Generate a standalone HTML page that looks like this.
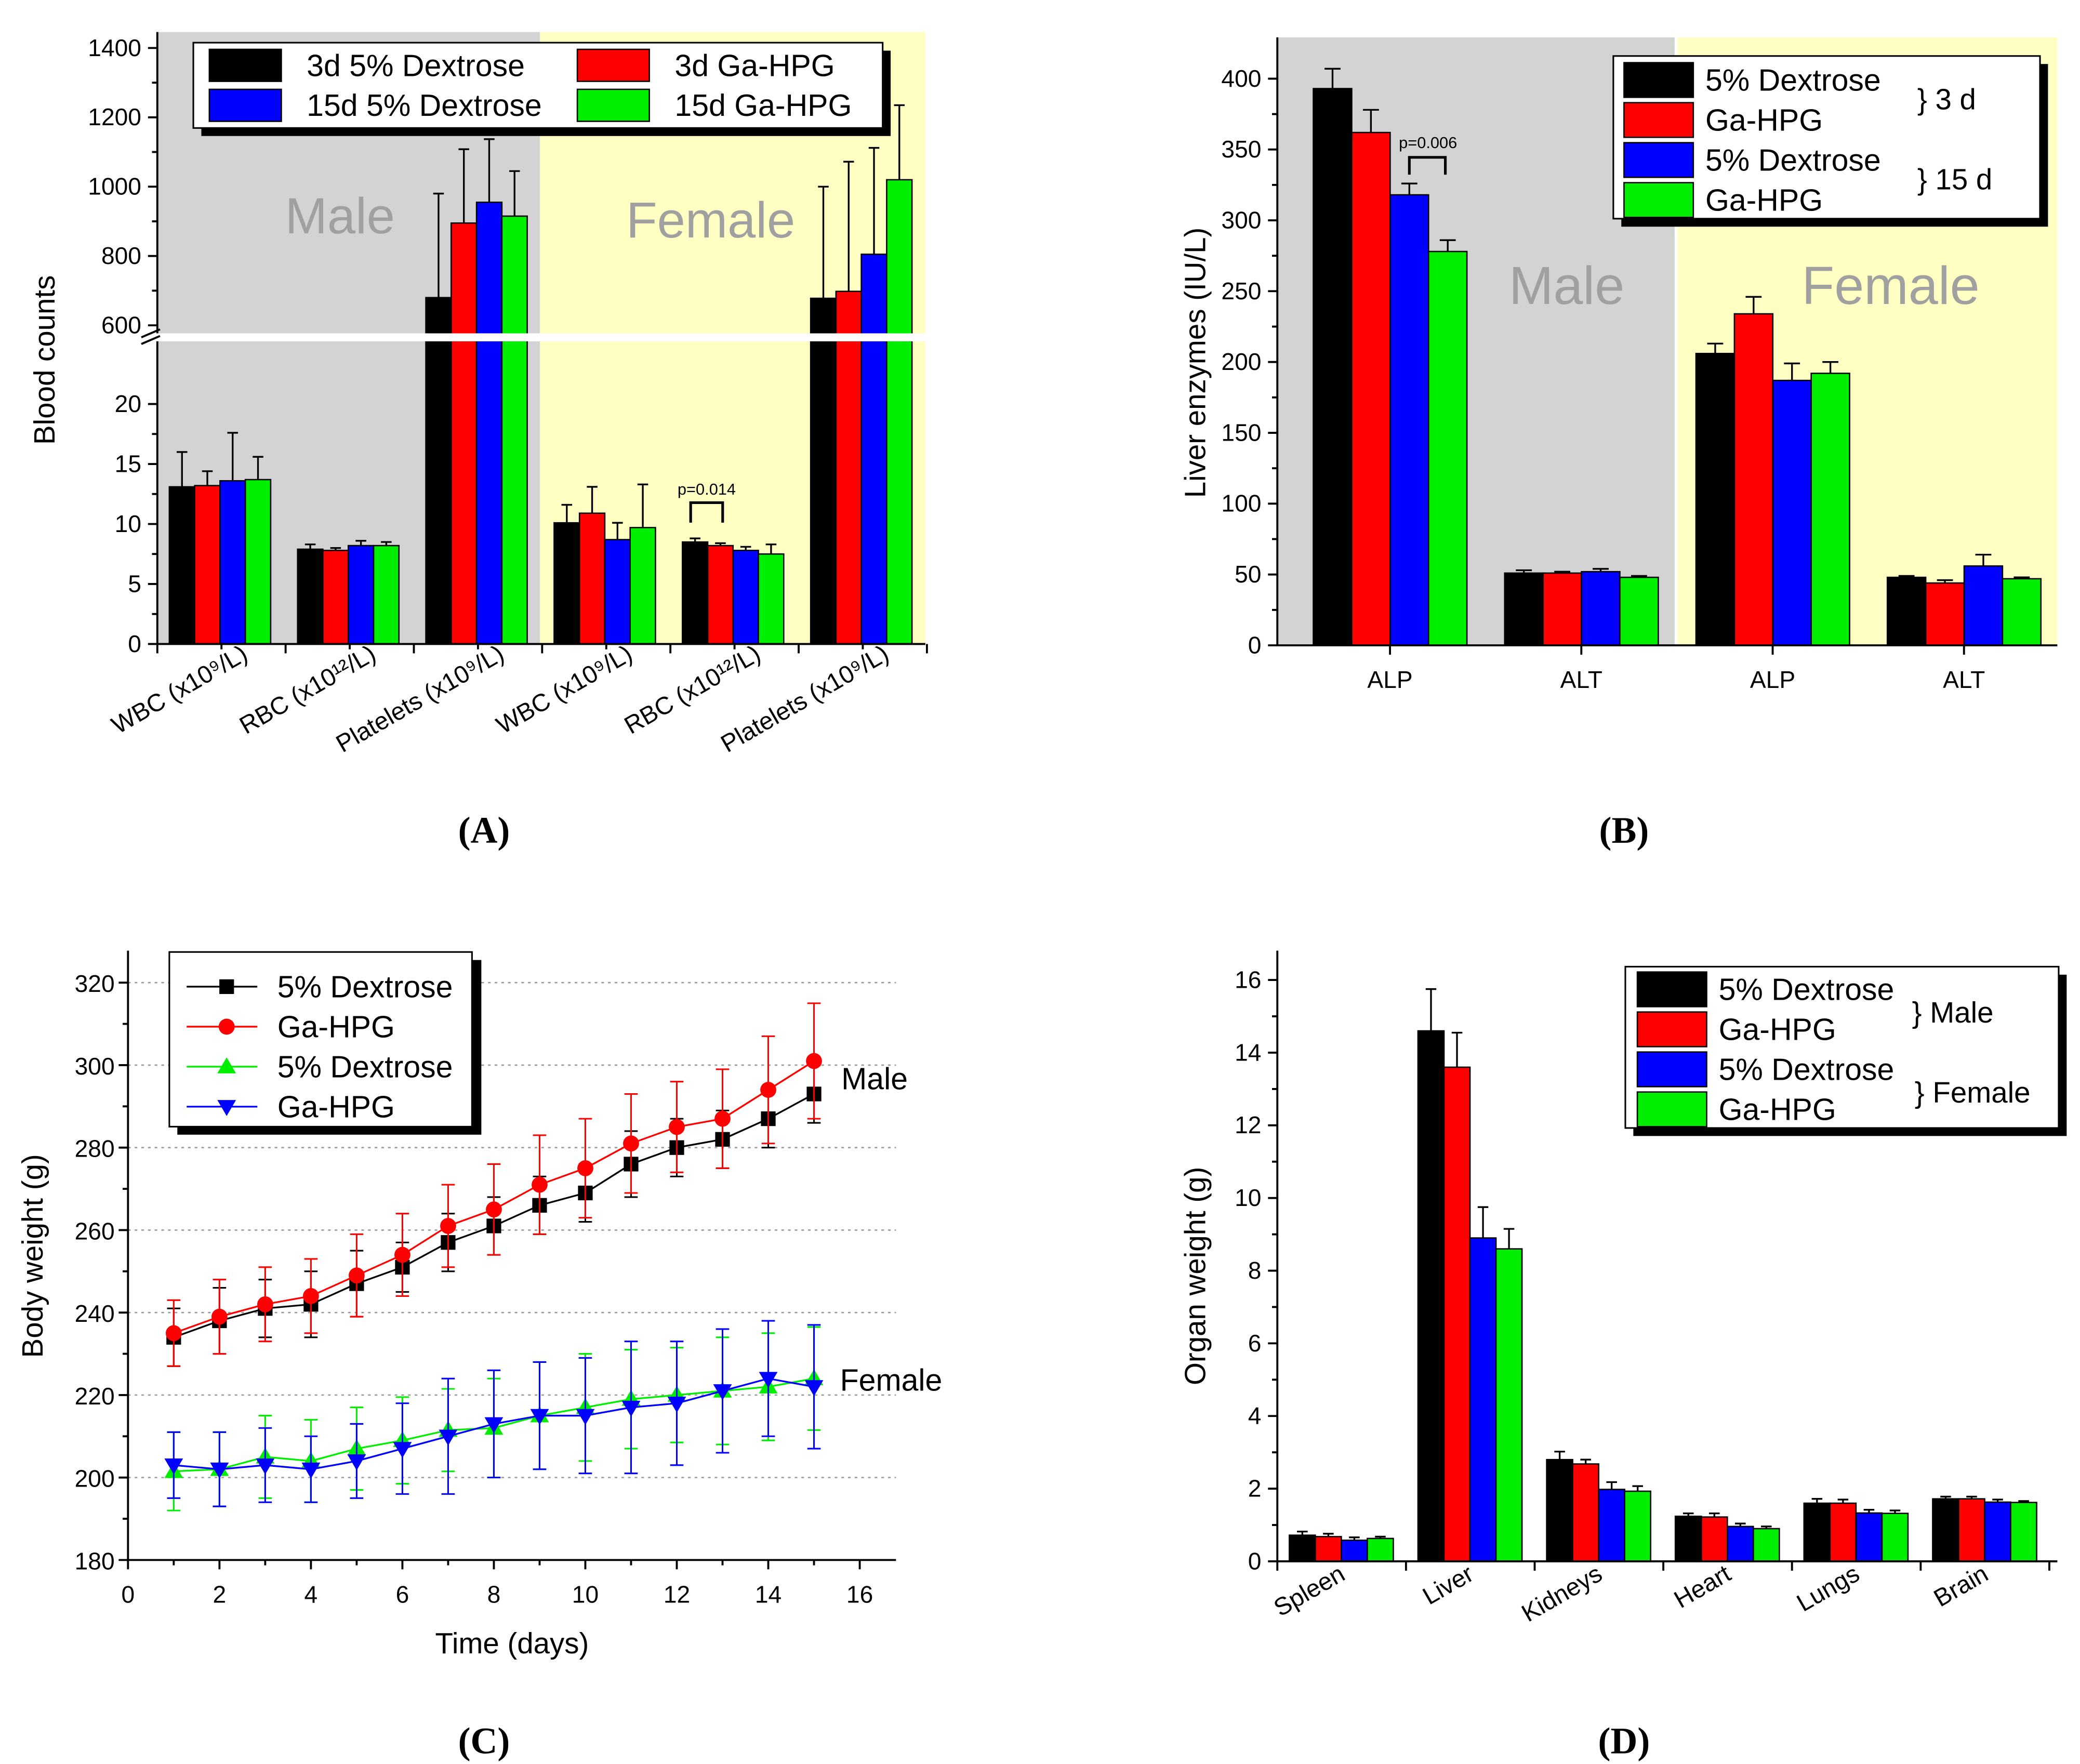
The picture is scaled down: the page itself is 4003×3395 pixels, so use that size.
<!DOCTYPE html>
<html><head><meta charset="utf-8"><style>
html,body{margin:0;padding:0;background:#fff;}
svg{display:block;font-family:"Liberation Sans",sans-serif;}
.n{font-family:"Liberation Sans Narrow","Liberation Sans",sans-serif;}
</style></head><body>
<svg id="s" width="4003" height="3395" viewBox="0 0 1560 1323" preserveAspectRatio="none" xmlns="http://www.w3.org/2000/svg">
<rect x="0" y="0" width="1560" height="1323" fill="#fff"/>
</svg>
<script>
// ---------- DATA ----------
const colors4 = ['#000000','#ff0000','#0000ff','#00ee00'];
// Panel A
const aCats = ['WBC (x10⁹/L)','RBC (x10¹²/L)','Platelets (x10⁹/L)','WBC (x10⁹/L)','RBC (x10¹²/L)','Platelets (x10⁹/L)'];
const aSeries = ['3d 5% Dextrose','3d Ga-HPG','15d 5% Dextrose','15d Ga-HPG'];
const aVals = [[13.1,13.2,13.6,13.7],[7.9,7.8,8.2,8.2],[680,895,955,915],[10.1,10.9,8.7,9.7],[8.5,8.2,7.8,7.5],[678,698,805,1020]];
const aErrTop = [[16,14.4,17.6,15.6],[8.3,8.0,8.6,8.5],[980,1108,1137,1045],[11.6,13.1,10.1,13.3],[8.8,8.4,8.1,8.3],[1000,1072,1112,1235]];
const aLowTicks = [0,5,10,15,20];
const aHighTicks = [600,800,1000,1200,1400];
// Panel B
const bCats = ['ALP','ALT','ALP','ALT'];
const bVals = [[393,362,318,278],[51,51,52,48],[206,234,187,192],[48,44,56,47]];
const bErrTop = [[407,378,326,286],[53,52,54,49],[213,246,199,200],[49,46,64,48]];
const bTicks = [0,50,100,150,200,250,300,350,400];
// Panel C
const cDays = [1,2,3,4,5,6,7,8,9,10,11,12,13,14,15];
const cMaleDex = [234,238,241,242,247,251,257,261,266,269,276,280,282,287,293];
const cMaleDexErr = [7,8,7,8,8,6,7,7,7,7,8,7,7,7,7];
const cMaleGa = [235,239,242,244,249,254,261,265,271,275,281,285,287,294,301];
const cMaleGaErr = [8,9,9,9,10,10,10,11,12,12,12,11,12,13,14];
const cFemDex = [201.5,202,205,204,207,209,211.5,212,215,217,219,220,221,222,224];
const cFemDexErr = [9.5,9,10,10,10,10.5,10,12,13,13,12,11.5,13,13,12.5];
const cFemGa = [203,202,203,202,204,207,210,213,215,215,217,218,221,224,222];
const cFemGaErr = [8,9,9,8,9,11,14,13,13,14,16,15,15,14,15];
const cXTicks = [0,2,4,6,8,10,12,14,16];
const cYTicks = [180,200,220,240,260,280,300,320];
// Panel D
const dCats = ['Spleen','Liver','Kidneys','Heart','Lungs','Brain'];
const dVals = [[0.72,0.68,0.58,0.63],[14.6,13.6,8.9,8.6],[2.8,2.68,1.98,1.93],[1.24,1.22,0.96,0.9],[1.6,1.6,1.33,1.32],[1.72,1.72,1.63,1.62]];
const dErrTop = [[0.82,0.76,0.66,0.68],[15.75,14.55,9.75,9.15],[3.02,2.8,2.18,2.07],[1.32,1.32,1.04,0.96],[1.72,1.7,1.42,1.4],[1.78,1.78,1.7,1.66]];
const dTicks = [0,2,4,6,8,10,12,14,16];

// ---------- HELPERS ----------
const S = document.getElementById('s');
const NS = 'http://www.w3.org/2000/svg';
function el(tag, attrs, parent, text){
  const e = document.createElementNS(NS, tag);
  for (const k in attrs) e.setAttribute(k, attrs[k]);
  if (text !== undefined) e.textContent = text;
  (parent||S).appendChild(e); return e;
}
function grp(name){ const g = el('g',{});   return g; }
function line(g,x1,y1,x2,y2,c,w){ return el('line',{x1,y1,x2,y2,stroke:c||'#000','stroke-width':w||1.5},g); }
function txt(g,x,y,s,size,opts){ opts=opts||{}; const t = el('text',{x,y,'font-size':size,fill:opts.fill||'#000','text-anchor':opts.anchor||'start',class:opts.cls||'',transform:opts.tr||''},g,s); if(opts.weight) t.setAttribute('font-weight',opts.weight); if(opts.family) t.setAttribute('font-family',opts.family); return t; }
function errbar(g,x,y1,y2,c,hw){ line(g,x,y1,x,y2,c,1.3); line(g,x-hw,y2,x+hw,y2,c,1.3); }

// ---------- PANEL A ----------
(function(){
  const g = grp('panel-a');
  const X0=118, X1=694, Y0=483, YT=24;
  const yLow = v => 483 - v*9.0;
  const yHigh = v => 244 - (v-600)*0.26;
  const yv = v => v<=25 ? yLow(v) : yHigh(v);
  const bg1 = el('rect',{x:X0,y:YT,width:287,height:Y0-YT,fill:'#d3d3d3'},g);
   
  const bg2 = el('rect',{x:405,y:YT,width:X1-405,height:Y0-YT,fill:'#ffffc4'},g);
   
  txt(g,255,175,'Male',38,{anchor:'middle',fill:'#a0a0a0'});
  txt(g,533,178,'Female',38,{anchor:'middle',fill:'#a0a0a0'});
  const gw=96.2, bw=19;
  aCats.forEach((c,i)=>{
    const cx = 165 + i*gw;
    aVals[i].forEach((v,j)=>{
      const x = cx-38+j*bw;
      const r = el('rect',{x,y:yv(v),width:bw,height:Y0-yv(v),fill:colors4[j],stroke:'#000','stroke-width':1},g);
      
      
      errbar(g,x+bw/2,yv(v),yv(aErrTop[i][j]),'#000',4);
    });
    const t = txt(g,cx+22,494,c,18.5,{anchor:'end',tr:`rotate(-30 ${cx+22} 494)`});
     
  });
  el('rect',{x:X0-14,y:250,width:X1-X0+14,height:6,fill:'#fff'},g);
  line(g,X0-12,258,X0+2,252,'#000',1.5); line(g,X0-12,253,X0+2,247,'#000',1.5);
  line(g,X0,YT,X0,250); line(g,X0,256,X0,Y0); line(g,X0,Y0,X1,Y0);
  aLowTicks.forEach(v=>{ line(g,X0-7,yLow(v),X0,yLow(v)); txt(g,X0-12,yLow(v)+6,String(v),18,{anchor:'end'}); });
  for(let v=2.5;v<22;v+=5) line(g,X0-4,yLow(v),X0,yLow(v));
  aHighTicks.forEach(v=>{ line(g,X0-7,yHigh(v),X0,yHigh(v)); txt(g,X0-12,yHigh(v)+6,String(v),18,{anchor:'end'}); });
  for(let v=700;v<1400;v+=200) line(g,X0-4,yHigh(v),X0,yHigh(v));
  for(let i=0;i<=6;i++){ const x=X0+i*gw; line(g,x,Y0,x,Y0+7); }
  for(let i=0;i<6;i++){ const x=X0+gw/2+i*gw; line(g,x,Y0,x,Y0+4); }
  const yt = txt(g,41,270,'Blood counts',22,{anchor:'middle',tr:'rotate(-90 41 270)'});
   
  txt(g,530,371,'p=0.014',12,{anchor:'middle'});
  el('path',{d:'M518 392 V377 H542 V392',fill:'none',stroke:'#000','stroke-width':2},g);
  const lg = el('g',{},g);  
  el('rect',{x:151,y:38,width:517,height:64,fill:'#000'},lg);
  el('rect',{x:145,y:32,width:517,height:64,fill:'#fff',stroke:'#000','stroke-width':1.2},lg);
  const pos=[[157,37],[433,37],[157,67],[433,67]];
  aSeries.forEach((s,j)=>{
    el('rect',{x:pos[j][0],y:pos[j][1],width:54,height:24,fill:colors4[j],stroke:'#000'},lg);
    const t = txt(lg,pos[j][0]+73,pos[j][1]+20,s,23);
     
  });
  txt(g,363,632,'(A)',28,{anchor:'middle',family:'"Liberation Serif",serif',weight:'bold'});
})();

// ---------- PANEL B ----------
(function(){
  const g = grp('panel-b');
  const X0=958, X1=1543, Y0=484, YT=28;
  const y = v => 484 - v*1.0625;
  el('rect',{x:X0,y:YT,width:298,height:Y0-YT,fill:'#d3d3d3'},g);
  el('rect',{x:1258,y:YT,width:X1-1258,height:Y0-YT,fill:'#ffffc4'},g);
  txt(g,1175,228,'Male',40,{anchor:'middle',fill:'#a0a0a0'});
  txt(g,1418,228,'Female',40,{anchor:'middle',fill:'#a0a0a0'});
  const bw=28.8;
  bCats.forEach((c,i)=>{
    const cx = 1042.5 + i*143.5;
    bVals[i].forEach((v,j)=>{
      const x = cx-57.5+j*bw;
      const r = el('rect',{x,y:y(v),width:bw,height:Y0-y(v),fill:colors4[j],stroke:'#000','stroke-width':1},g);
      
      
      errbar(g,x+bw/2,y(v),y(bErrTop[i][j]),'#000',6);
    });
    line(g,cx,Y0,cx,Y0+7);
    const t=txt(g,cx,516,c,18,{anchor:'middle'});
     
  });
  line(g,X0,YT,X0,Y0); line(g,X0,Y0,X1,Y0);
  bTicks.forEach(v=>{ line(g,X0-7,y(v),X0,y(v)); txt(g,X0-12,y(v)+6,String(v),18,{anchor:'end'}); });
  for(let v=25;v<400;v+=50) line(g,X0-4,y(v),X0,y(v));
  const yt = txt(g,904,272,'Liver enzymes (IU/L)',22,{anchor:'middle',tr:'rotate(-90 904 272)'});
   
  txt(g,1071,111,'p=0.006',12,{anchor:'middle'});
  el('path',{d:'M1057 131 V118 H1084 V131',fill:'none',stroke:'#000','stroke-width':2},g);
  const lg = el('g',{},g);  
  el('rect',{x:1216,y:48,width:320,height:122,fill:'#000'},lg);
  el('rect',{x:1210,y:42,width:320,height:122,fill:'#fff',stroke:'#000','stroke-width':1.2},lg);
  const names=['5% Dextrose','Ga-HPG','5% Dextrose','Ga-HPG'];
  names.forEach((s,j)=>{
    const yy = 47+j*30;
    el('rect',{x:1218,y:yy,width:52,height:26,fill:colors4[j],stroke:'#000'},lg);
    const t=txt(lg,1279,yy+21,s,23);
     
  });
  txt(lg,1438,82,'} 3 d',22); txt(lg,1438,142,'} 15 d',22);
  txt(g,1218,632,'(B)',28,{anchor:'middle',family:'"Liberation Serif",serif',weight:'bold'});
})();

// ---------- PANEL C ----------
(function(){
  const g = grp('panel-c');
  const X0=96, X1=672, Y0=1170, YT=713;
  const x = d => 96 + d*34.3;
  const y = v => 1170 - (v-180)*3.093;
  cYTicks.slice(1).forEach(v=>{ line(g,X0,y(v),X1,y(v),'#999',1).setAttribute('stroke-dasharray','2 3'); });
  line(g,X0,YT,X0,Y0); line(g,X0,Y0,X1,Y0);
  cYTicks.forEach(v=>{ line(g,X0-7,y(v),X0,y(v)); txt(g,X0-10,y(v)+7,String(v),18,{anchor:'end',cls:'n'}); });
  for(let v=190;v<330;v+=20) line(g,X0-4,y(v),X0,y(v));
  cXTicks.forEach(d=>{ line(g,x(d),Y0,x(d),Y0+7); txt(g,x(d),1202,String(d),18,{anchor:'middle',cls:'n'}); });
  for(let d=1;d<16;d+=2) line(g,x(d),Y0,x(d),Y0+4);
  const series = [
    {v:cMaleDex,e:cMaleDexErr,c:'#000',m:'sq',n:'male-dextrose'},
    {v:cFemDex,e:cFemDexErr,c:'#00ee00',m:'up',n:'female-dextrose'},
    {v:cFemGa,e:cFemGaErr,c:'#0000ff',m:'dn',n:'female-ga-hpg'},
    {v:cMaleGa,e:cMaleGaErr,c:'#ff0000',m:'ci',n:'male-ga-hpg'}];
  function marker(gg,m,px,py,c){
    if(m==='sq') return el('rect',{x:px-5.5,y:py-5.5,width:11,height:11,fill:c},gg);
    if(m==='ci') return el('circle',{cx:px,cy:py,r:6,fill:c},gg);
    if(m==='up') return el('path',{d:`M${px} ${py-7} L${px+7} ${py+5} L${px-7} ${py+5}Z`,fill:c},gg);
    return el('path',{d:`M${px} ${py+7} L${px+7} ${py-5} L${px-7} ${py-5}Z`,fill:c},gg);
  }
  series.forEach(s=>{
    const sg = el('g',{},g);  
    cDays.forEach((d,i)=>{
      const px=x(d);
      line(sg,px,y(s.v[i]-s.e[i]),px,y(s.v[i]+s.e[i]),s.c,1.2);
      line(sg,px-5,y(s.v[i]-s.e[i]),px+5,y(s.v[i]-s.e[i]),s.c,1.2);
      line(sg,px-5,y(s.v[i]+s.e[i]),px+5,y(s.v[i]+s.e[i]),s.c,1.2);
    });
    el('polyline',{points:cDays.map((d,i)=>x(d)+','+y(s.v[i])).join(' '),fill:'none',stroke:s.c,'stroke-width':1.3},sg);
    cDays.forEach((d,i)=>{ const mk=marker(sg,s.m,x(d),y(s.v[i]),s.c);   });
  });
  txt(g,631,817,'Male',23,{cls:'n'}); txt(g,630,1043,'Female',23,{cls:'n'});
  const lg = el('g',{},g);  
  el('rect',{x:133,y:720,width:228,height:131,fill:'#000'},lg);
  el('rect',{x:127,y:714,width:227,height:131,fill:'#fff',stroke:'#000','stroke-width':1.2},lg);
  const ls=[['5% Dextrose','#000','sq'],['Ga-HPG','#ff0000','ci'],['5% Dextrose','#00ee00','up'],['Ga-HPG','#0000ff','dn']];
  ls.forEach((l,j)=>{
    const yy=740+j*30;
    line(lg,140,yy,193,yy,l[1],1.3); marker(lg,l[2],170,yy,l[1]);
    const t=txt(lg,208,yy+8,l[0],23,{cls:'n'});
     
  });
  const yt=txt(g,32,942,'Body weight (g)',22,{anchor:'middle',tr:'rotate(-90 32 942)'});
   
  const xt=txt(g,384,1240,'Time (days)',22,{anchor:'middle'});
   
  txt(g,363,1315,'(C)',28,{anchor:'middle',family:'"Liberation Serif",serif',weight:'bold'});
})();

// ---------- PANEL D ----------
(function(){
  const g = grp('panel-d');
  const X0=958, X1=1543, Y0=1171, YT=713;
  const y = v => 1171 - v*27.25;
  const bw=19.5, gw=96.5;
  dCats.forEach((c,i)=>{
    const cx = 1006 + i*gw;
    dVals[i].forEach((v,j)=>{
      const x = cx-39+j*bw;
      const r = el('rect',{x,y:y(v),width:bw,height:Y0-y(v),fill:colors4[j],stroke:'#000','stroke-width':1},g);
      
      
      errbar(g,x+bw/2,y(v),y(dErrTop[i][j]),'#000',4);
    });
    const t=txt(g,cx+4,1184,c,18.5,{anchor:'end',tr:`rotate(-30 ${cx+4} 1184)`});
     
  });
  for(let i=0;i<=6;i++){ const x=X0+i*gw; line(g,x,Y0,x,Y0+7); }
  line(g,X0,YT,X0,Y0); line(g,X0,Y0,X1,Y0);
  dTicks.forEach(v=>{ line(g,X0-7,y(v),X0,y(v)); txt(g,X0-12,y(v)+6,String(v),18,{anchor:'end'}); });
  for(let v=1;v<16;v+=2) line(g,X0-4,y(v),X0,y(v));
  const yt=txt(g,904,957,'Organ weight (g)',22,{anchor:'middle',tr:'rotate(-90 904 957)'});
   
  const lg = el('g',{},g);  
  el('rect',{x:1225,y:731,width:325,height:121,fill:'#000'},lg);
  el('rect',{x:1219,y:725,width:325,height:121,fill:'#fff',stroke:'#000','stroke-width':1.2},lg);
  const names=['5% Dextrose','Ga-HPG','5% Dextrose','Ga-HPG'];
  names.forEach((s,j)=>{
    const yy=729+j*30;
    el('rect',{x:1228,y:yy,width:52,height:26,fill:colors4[j],stroke:'#000'},lg);
    const t=txt(lg,1289,yy+21,s,23);
     
  });
  txt(lg,1434,767,'} Male',22); txt(lg,1436,827,'} Female',22);
  txt(g,1218,1315,'(D)',28,{anchor:'middle',family:'"Liberation Serif",serif',weight:'bold'});
})();
</script>
</body></html>
